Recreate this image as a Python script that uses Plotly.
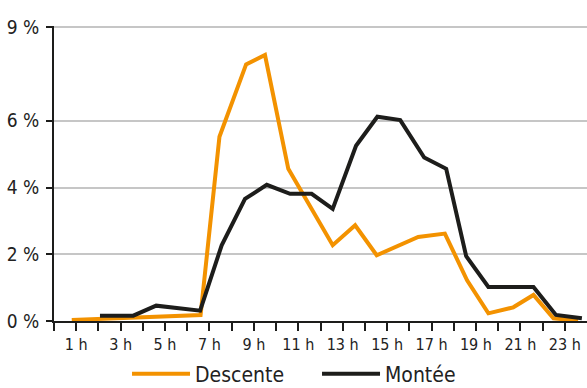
import plotly.graph_objects as go

# Descente (orange)
desc_x = [0.8, 6.6, 7.45, 8.65, 9.5, 10.55, 12.55, 13.56, 14.53, 16.4, 17.6, 18.6, 19.56, 20.68, 21.59, 22.49, 23.6]
desc_y = [0.03, 0.18, 5.52, 7.69, 7.97, 4.56, 2.27, 2.87, 1.97, 2.52, 2.62, 1.22, 0.23, 0.41, 0.78, 0.08, 0.01]

# Montée (black)
mont_x = [2.07, 3.57, 4.6, 6.58, 7.55, 8.6, 9.58, 10.63, 11.6, 12.55, 13.6, 14.56, 15.59, 16.67, 17.66, 18.56, 19.56, 21.59, 22.6, 23.77]
mont_y = [0.16, 0.16, 0.46, 0.31, 2.27, 3.66, 4.08, 3.81, 3.81, 3.36, 5.25, 6.12, 6.02, 4.9, 4.56, 1.94, 1.02, 1.02, 0.18, 0.08]

y_tickvals = [0, 2, 4, 6, 8.8]
y_ticktext = ["0 %", "2 %", "4 %", "6 %", "9 %"]
x_tickvals = list(range(0, 24))
x_ticktext = [f"{h} h" if h % 2 == 1 else "" for h in x_tickvals]

FONT = "Liberation Sans Narrow, DejaVu Sans Condensed, Arial Narrow, sans-serif"
ORANGE = "#F39200"
BLACK = "#1d1d1b"
TXT = "#222222"

fig = go.Figure()
fig.add_trace(go.Scatter(x=desc_x, y=desc_y, mode="lines", name="Descente",
                         line=dict(color=ORANGE, width=4)))
fig.add_trace(go.Scatter(x=mont_x, y=mont_y, mode="lines", name="Montée",
                         line=dict(color=BLACK, width=4)))

fig.update_layout(
    width=587, height=388,
    margin=dict(l=54, r=0, t=26, b=67, autoexpand=False),
    paper_bgcolor="white", plot_bgcolor="white",
    font=dict(family=FONT, color=TXT),
    showlegend=True,
    legend=dict(orientation="h", x=0.137, xanchor="left", y=-0.18, yanchor="middle",
                font=dict(size=21, family=FONT, color=TXT),
                itemwidth=58, entrywidth=117, entrywidthmode="pixels",
                traceorder="normal", bgcolor="rgba(0,0,0,0)"),
    xaxis=dict(range=[0, 24], tickvals=x_tickvals, ticktext=x_ticktext,
               ticks="outside", ticklen=8, tickwidth=1.5, tickcolor=BLACK,
               showline=True, linecolor=BLACK, linewidth=2,
               showgrid=False, zeroline=False, fixedrange=True,
               tickfont=dict(size=16, family=FONT, color=TXT)),
    yaxis=dict(range=[0, 8.84], tickvals=y_tickvals, ticktext=y_ticktext,
               ticks="outside", ticklen=6, tickwidth=2, tickcolor=BLACK,
               showline=True, linecolor=BLACK, linewidth=2,
               showgrid=True, gridcolor="#c6c6c6", gridwidth=1.5,
               zeroline=False, ticklabelstandoff=3, fixedrange=True,
               tickfont=dict(size=19, family=FONT, color=TXT)),
)

fig.write_html("out.html", config={"displayModeBar": False},
               post_script="document.body.style.margin='0';document.body.style.padding='0';")
